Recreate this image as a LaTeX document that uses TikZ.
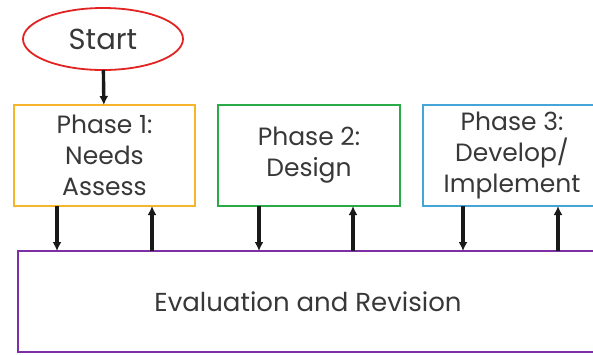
\documentclass[tikz,border=0pt]{standalone}
\usepackage{fontspec}
\setmainfont{Poppins}
\usetikzlibrary{arrows.meta, positioning, shapes.geometric}

\definecolor{startred}{HTML}{E32222}
\definecolor{phaseone}{HTML}{F7B52C}
\definecolor{phasetwo}{HTML}{2BAA4A}
\definecolor{phasethree}{HTML}{45A5D8}
\definecolor{evalpurple}{HTML}{7E2FA6}
\definecolor{textgray}{HTML}{383838}

\tikzset{
    phase/.style={draw, line width=2.2pt, rectangle, minimum width=182pt,
        minimum height=101pt, inner sep=0pt, outer sep=0pt, align=center,
        text=textgray, font=\fontsize{25}{31}\selectfont},
    arrowline/.style={draw=black!90, line width=3.4pt,
        arrows={-Latex[length=9pt, width=9pt]}}
}

\begin{document}
\begin{tikzpicture}[x=1pt, y=1pt]
    \useasboundingbox (0,0) rectangle (593,-354);

    % Start and the three phases
    \node[ellipse, draw=startred, line width=1.8pt, minimum width=160pt,
        minimum height=62pt, inner sep=0pt, outer sep=0pt, text=textgray,
        font=\fontsize{29}{31}\selectfont] (start) at (103,-39) {Start};
    \node[phase, draw=phaseone, minimum width=181pt] (p1) at (104.5,-155.5)
        {Phase 1:\\Needs\\Assess};
    \node[phase, draw=phasetwo, right=23pt of p1] (p2) {Phase 2:\\Design};
    \node[phase, draw=phasethree, right=23pt of p2, minimum width=178pt] (p3)
        {Phase 3:\\Develop/\\Implement};

    % Evaluation box along the bottom
    \node[phase, draw=evalpurple, minimum width=580pt,
        font=\fontsize{26}{31}\selectfont] (eval) at (308,-301.5)
        {Evaluation and Revision};

    % Connect the boxes with arrows
    \path[arrowline] (start) -- (p1);
    \foreach \p/\dn/\up in {p1/-47.5/47.5, p2/-50/44, p3/-49/46} {
        \path[arrowline] ([xshift=\dn pt]\p.south) -- ([xshift=\dn pt]\p.south |- eval.north);
        \path[arrowline] ([xshift=\up pt]\p.south |- eval.north) -- ([xshift=\up pt]\p.south);
    }
\end{tikzpicture}
\end{document}
